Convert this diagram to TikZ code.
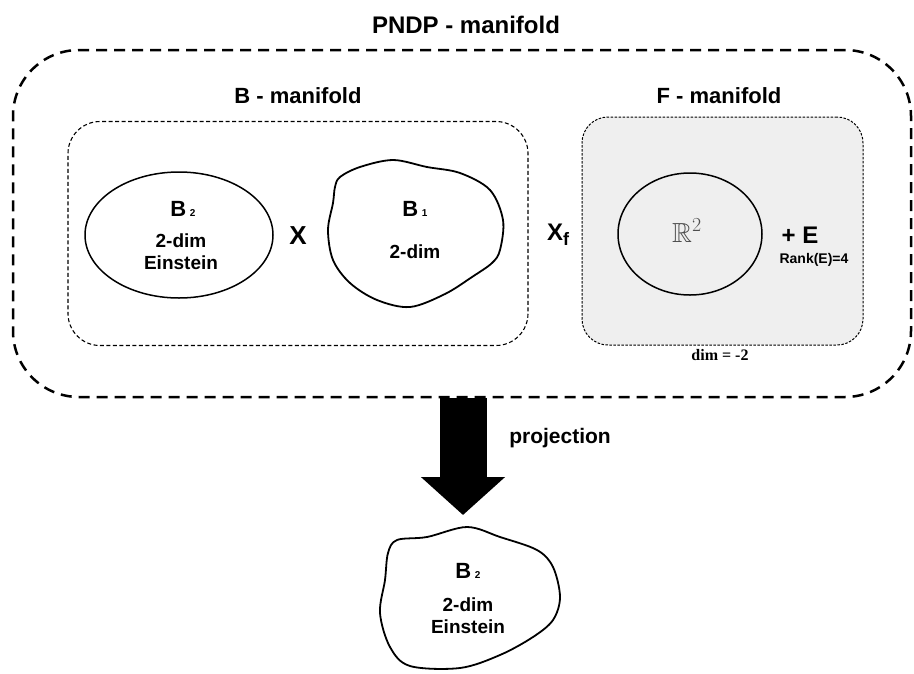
\documentclass[tikz,border=0pt]{standalone}
\usepackage{fontspec}
\usepackage{amssymb}
\usepackage{graphicx}
\setmainfont{Liberation Sans}
\newfontfamily\serifbf{Liberation Serif}
\usetikzlibrary{shapes.geometric,arrows.meta}
\definecolor{fgray}{HTML}{EFEFEF}
\definecolor{rgray}{HTML}{4D4D4D}
\newcommand{\fsz}[1]{\fontsize{#1}{#1}\selectfont}
\tikzset{
  outerbox/.style={draw, line width=2.5pt, dash pattern=on 11pt off 7pt, rounded corners=66pt, minimum width=898pt, minimum height=347pt, inner sep=0pt},
  bbox/.style={draw, line width=1.1pt, dash pattern=on 4pt off 2.5pt, rounded corners=32pt, minimum width=460pt, minimum height=224pt, inner sep=0pt},
  fbox/.style={draw, fill=fgray, line width=1pt, dash pattern=on 2.5pt off 1.5pt, rounded corners=26pt, minimum width=281pt, minimum height=228pt, inner sep=0pt},
  shapeline/.style={draw, line width=1.5pt},
  blobline/.style={line width=1.8pt, line join=round},
  lbl/.style={font=\bfseries\fsz{19}, anchor=base, inner sep=0pt},
  title/.style={font=\bfseries\fsz{22}, anchor=base, inner sep=0pt},
  bigarrow/.style={line width=47pt, -{Triangle[length=38pt,width=82pt]}},
}
\begin{document}
\begin{tikzpicture}[x=1pt,y=-1pt]
\useasboundingbox (0,0) rectangle (914,673);
% containers
\node[outerbox] (pndp) at (462,223.5) {};
\node[bbox] (bman) at (298,233.5) {};
\node[fbox] (fman) at (722.5,231) {};
% titles
\node[title, font=\bfseries\fsz{24}] (tpndp) at (466,33) {PNDP - manifold};
\node[title] (tb) at (298,103) {B - manifold};
\node[title] (tf) at (719,103) {F - manifold};
% B2 ellipse
\node[shapeline, ellipse, minimum width=188pt, minimum height=126pt, inner sep=0pt] (b2e) at (179,235) {};
\node[lbl, font=\bfseries\fsz{22}] (b2l) at (183,216) {B\,{\fsz{10}2}};
\node[lbl] (b2d) at (181,247) {2-dim};
\node[lbl] (b2n) at (181,269) {Einstein};
% times
\node[lbl, font=\bfseries\fsz{26}] (times) at (298,244) {X};
% B1 blob
\draw[blobline] plot[smooth cycle, tension=0.55] coordinates {(340,177) (360,167) (393,160) (427,167) (460,173) (490,190) (503,220) (500,250) (492,263) (472,277) (445,294) (410,307) (377,300) (350,283) (333,260) (328,230) (333,203) (335,187)};
\node[lbl, font=\bfseries\fsz{22}] (b1l) at (415,216) {B\,{\fsz{10}1}};
\node[lbl] (b1d) at (415,258) {2-dim};
% warped product
\node[lbl, font=\bfseries\fsz{24}] (xf) at (558,240) {X{\fsz{18}\raisebox{-5pt}{f}}};
% R^2 circle
\node[shapeline, ellipse, minimum width=144pt, minimum height=122pt, inner sep=0pt] (r2c) at (690,234) {};
\node[anchor=base, inner sep=0pt, text=rgray, font=\fsz{24}] (r2l) at (687,242) {\scalebox{1.15}{$\mathbb{R}^2$}};
\node[lbl, font=\bfseries\fsz{24}] (pe) at (800,243) {+ E};
\node[lbl, font=\bfseries\fsz{14}] (rank) at (814,263) {Rank(E)=4};
\node[lbl, font=\serifbf\bfseries\fsz{16}] (dim) at (720,360) {dim = -2};
% projection arrow
\coordinate (tip) at (463,515);
\draw[bigarrow] (pndp.south -| tip) -- (tip);
\node[lbl, font=\bfseries\fsz{21}] (proj) at (560,443) {projection};
% bottom blob
\draw[blobline] plot[smooth cycle, tension=0.55] coordinates {(388,553) (397,540) (427,537) (467,527) (500,537) (537,550) (553,567) (560,597) (553,620) (533,637) (500,655) (460,668) (410,666) (390,647) (380,613) (385,580)};
\node[lbl, font=\bfseries\fsz{22}] (b2bl) at (468,578) {B\,{\fsz{10}2}};
\node[lbl] (b2bd) at (468,611) {2-dim};
\node[lbl] (b2bn) at (468,633) {Einstein};
\end{tikzpicture}
\end{document}
